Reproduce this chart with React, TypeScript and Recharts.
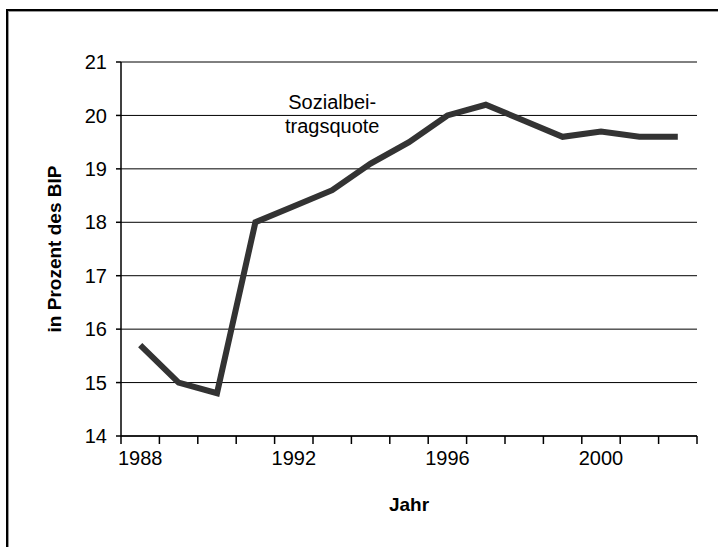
import { LineChart, Line, XAxis, YAxis, CartesianGrid, ReferenceDot } from 'recharts'

const years = [1988, 1989, 1990, 1991, 1992, 1993, 1994, 1995, 1996, 1997, 1998, 1999, 2000, 2001, 2002]
const quote = [15.7, 15.0, 14.8, 18.0, 18.3, 18.6, 19.1, 19.5, 20.0, 20.2, 19.9, 19.6, 19.7, 19.6, 19.6]
const yTicks = [14, 15, 16, 17, 18, 19, 20, 21]
const labelYears = [1988, 1992, 1996, 2000]
// tick marks sit between the years, as in the old Excel category axis
const boundaryTicks = [...years.map((y) => y - 0.5), years[years.length - 1] + 0.5]

const data = years.map((year, i) => ({ year, quote: quote[i] }))

const font = '"Liberation Sans", Arial, sans-serif'
const xDomain = [years[0] - 0.5, years[years.length - 1] + 0.5]

export default function App() {
  return (
    <div style={{ position: 'absolute', left: 0, top: 0, width: 718, height: 547, background: '#fff', fontFamily: font }}>
      <div
        style={{
          position: 'absolute',
          left: 6,
          top: 9,
          right: 0,
          bottom: 0,
          borderTop: '2px solid #000',
          borderLeft: '2px solid #000',
          boxShadow: 'inset 1px 1px 0 #999',
        }}
      />
      <div style={{ position: 'absolute', left: 0, top: 0 }}>
        <LineChart width={718} height={547} data={data} margin={{ top: 62, right: 21, left: 0, bottom: 22 }}>
          <CartesianGrid vertical={false} stroke="#000" strokeWidth={1} xAxisId="axis" />
          <XAxis
            xAxisId="axis"
            dataKey="year"
            type="number"
            domain={xDomain}
            ticks={boundaryTicks}
            interval={0}
            tick={() => <g />}
            tickSize={8}
            height={9}
            axisLine={{ stroke: '#000', strokeWidth: 1.5 }}
            tickLine={{ stroke: '#000', strokeWidth: 1.5 }}
          />
          <XAxis
            xAxisId="years"
            dataKey="year"
            type="number"
            domain={xDomain}
            ticks={labelYears}
            interval={0}
            axisLine={false}
            tickLine={false}
            tickSize={0}
            tickMargin={6}
            height={80}
            tick={{ fill: '#000', fontSize: 20, fontFamily: font }}
            label={{ value: 'Jahr', position: 'insideBottom', offset: 14, fill: '#000', fontSize: 19, fontWeight: 'bold', fontFamily: font }}
          />
          <YAxis
            domain={[14, 21]}
            ticks={yTicks}
            interval={0}
            width={121}
            tickSize={5}
            tickMargin={9}
            axisLine={{ stroke: '#000', strokeWidth: 1.5 }}
            tickLine={{ stroke: '#000', strokeWidth: 1.5 }}
            tick={{ fill: '#000', fontSize: 20, fontFamily: font }}
            label={{
              value: 'in Prozent des BIP',
              angle: -90,
              position: 'center',
              dx: -6,
              fill: '#000',
              fontSize: 19,
              fontWeight: 'bold',
              fontFamily: font,
            }}
          />
          <Line
            xAxisId="axis"
            type="linear"
            dataKey="quote"
            stroke="#333"
            strokeWidth={6}
            dot={false}
            activeDot={false}
            isAnimationActive={false}
          />
          <ReferenceDot
            xAxisId="axis"
            x={1993}
            y={20.25}
            r={0}
            label={{ value: 'Sozialbei-', position: 'center', fill: '#000', fontSize: 20, fontFamily: font }}
          />
          <ReferenceDot
            xAxisId="axis"
            x={1993}
            y={19.81}
            r={0}
            label={{ value: 'tragsquote', position: 'center', fill: '#000', fontSize: 20, fontFamily: font }}
          />
        </LineChart>
      </div>
    </div>
  )
}
